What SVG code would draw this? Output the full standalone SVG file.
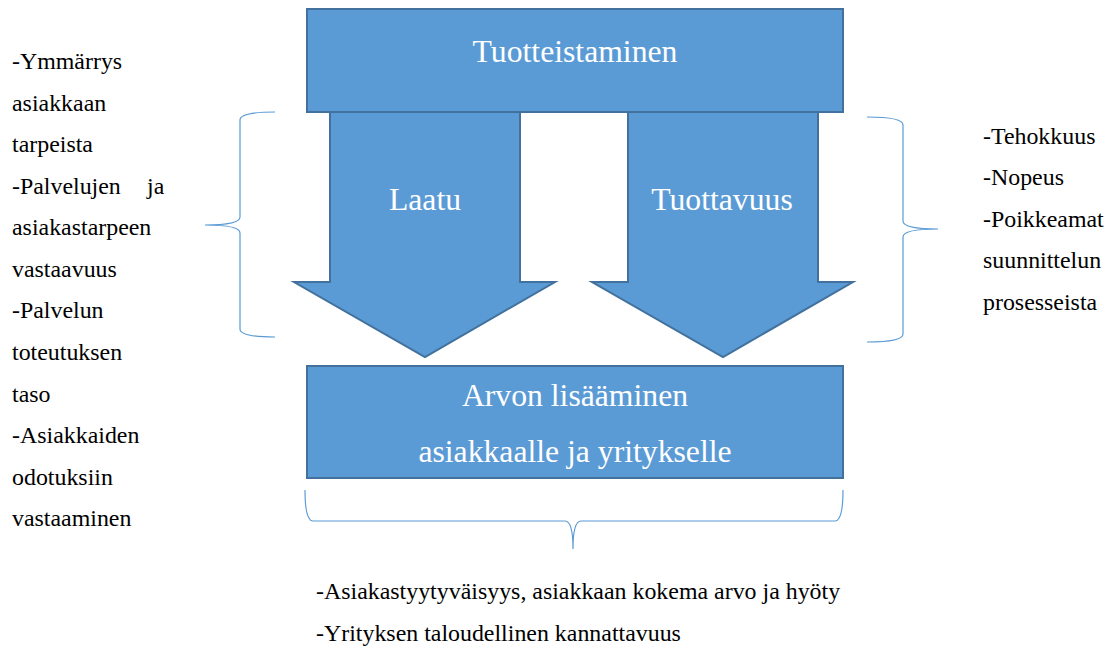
<svg xmlns="http://www.w3.org/2000/svg" width="1115" height="648" viewBox="0 0 1115 648">
<style>
.shape{fill:#5B9BD5;stroke:#41719C;stroke-width:2}
.wt{font-family:'Liberation Serif','Times New Roman',Times,serif;font-size:31.7px;fill:#FFFFFF;text-anchor:middle}
.bt{font-family:'Liberation Serif','Times New Roman',Times,serif;font-size:23.9px;fill:#000000}
.brace{fill:none;stroke:#5B9BD5;stroke-width:1.2}
</style>
<rect width="1115" height="648" fill="#FFFFFF"/>
<g id="arrow-laatu">
<polygon class="shape" points="330,111 520,111 520,282 555,282 425,357 294,282 330,282"/>
<text class="wt" x="425" y="210">Laatu</text>
</g>
<g id="arrow-tuottavuus">
<polygon class="shape" points="628,111 818,111 818,282 853,282 723,357 592,282 628,282"/>
<text class="wt" x="722" y="210">Tuottavuus</text>
</g>
<g id="tuotteistaminen">
<rect class="shape" x="307" y="9" width="536" height="103"/>
<text class="wt" x="575" y="62">Tuotteistaminen</text>
</g>
<g id="arvon">
<rect class="shape" x="307" y="366" width="536" height="112"/>
<text class="wt" x="575" y="406">Arvon lisääminen</text>
<text class="wt" x="575" y="462">asiakkaalle ja yritykselle</text>
</g>
<g id="connectors">
<path class="brace" d="M275,112 Q240,112 240,120 L240,217 Q240,225 205,225 Q240,225 240,233 L240,329 Q240,337 275,337"/>
<path class="brace" d="M867,117 Q903,117 903,125 L903,221 Q903,229 938,229 Q903,229 903,237 L903,334 Q903,342 867,342"/>
<path class="brace" d="M305,490 Q305,521 313,521 L565,521 Q573,521 573,549 Q573,521 581,521 L835,521 Q843,521 843,490"/>
</g>
<g id="left-text">
<text class="bt" x="12" y="69">-Ymmärrys</text>
<text class="bt" x="12" y="111">asiakkaan</text>
<text class="bt" x="12" y="152">tarpeista</text>
<text class="bt" x="12" y="194">-Palvelujen</text>
<text class="bt" x="147" y="194">ja</text>
<text class="bt" x="12" y="235">asiakastarpeen</text>
<text class="bt" x="12" y="277">vastaavuus</text>
<text class="bt" x="12" y="318">-Palvelun</text>
<text class="bt" x="12" y="360">toteutuksen</text>
<text class="bt" x="12" y="402">taso</text>
<text class="bt" x="12" y="443">-Asiakkaiden</text>
<text class="bt" x="12" y="485">odotuksiin</text>
<text class="bt" x="12" y="526">vastaaminen</text>
</g>
<g id="right-text">
<text class="bt" x="983" y="144">-Tehokkuus</text>
<text class="bt" x="983" y="185">-Nopeus</text>
<text class="bt" x="983" y="227">-Poikkeamat</text>
<text class="bt" x="983" y="268">suunnittelun</text>
<text class="bt" x="983" y="310">prosesseista</text>
</g>
<g id="bottom-text">
<text class="bt" x="316" y="599">-Asiakastyytyväisyys, asiakkaan kokema arvo ja hyöty</text>
<text class="bt" x="316" y="641">-Yrityksen taloudellinen kannattavuus</text>
</g>
</svg>
